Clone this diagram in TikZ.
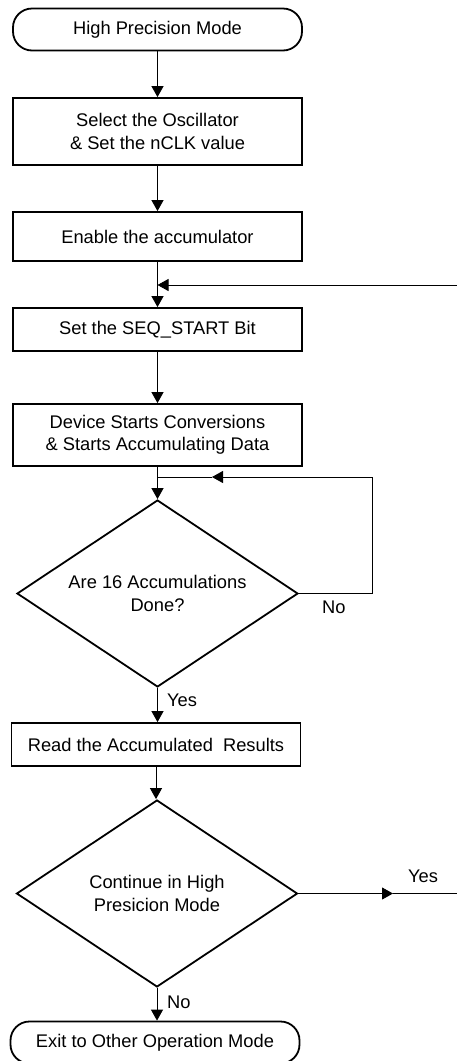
\documentclass[tikz,border=0pt]{standalone}
\usepackage{fontspec}
\setmainfont{Liberation Sans}
\usetikzlibrary{shapes.geometric,arrows.meta}
\begin{document}
\begin{tikzpicture}[x=1pt,y=-1pt,
  every node/.style={font=\fontsize{18.3}{22.5}\selectfont},
  procbox/.style={draw,line width=1.8pt,minimum width=289pt,inner sep=0pt,align=center},
  termbox/.style={draw,line width=1.8pt,minimum width=289pt,minimum height=42pt,rounded corners=19pt,inner sep=0pt},
  decide/.style={draw,diamond,line width=1.8pt,aspect=1.5,minimum width=281pt,minimum height=187pt,inner sep=0pt,align=center},
  conn/.style={line width=0.9pt},
  arr/.style={conn,-{Triangle[length=11pt,width=12pt]}},
  lbl/.style={inner sep=0pt}
]
\useasboundingbox (0,0) rectangle (457,1061);
\node[termbox] (start) at (157.5,29.5) {High Precision Mode};
\node[procbox,minimum height=67pt] (osc) at (157.5,131.5) {Select the Oscillator\\\& Set the nCLK value};
\node[procbox,minimum height=49pt] (acc) at (157.5,236.5) {Enable the accumulator};
\node[procbox,minimum height=43pt] (seq) at (157.5,329.5) {Set the SEQ\_START Bit};
\node[procbox,minimum height=62pt] (dev) at (157.5,435) {Device Starts Conversions\\\& Starts Accumulating Data};
\node[decide] (d1) at (157.5,593.5) {Are 16 Accumulations\\Done?};
\node[procbox,minimum height=43pt] (read) at (156,744.5) {Read the Accumulated\ \ Results};
\node[decide] (d2) at (157,893.5) {Continue in High\\Presicion Mode};
\node[termbox] (exit) at (155,1042.5) {Exit to Other Operation Mode};

\draw[arr] (start.south) -- (osc.north);
\draw[arr] (osc.south) -- (acc.north);
\draw[arr] (acc.south) -- (seq.north);
\draw[arr] (seq.south) -- (dev.north);
\draw[arr] (dev.south) -- (d1.north);

\coordinate (rin) at (457,285);
\draw[arr] (rin) -- (rin -| acc.south);

\coordinate (lp1) at (372,593.5);
\coordinate (lp2) at (372,477);
\coordinate (lptip) at (212,477);
\draw[arr] (d1.east) -- (lp1) -- (lp2) -- (lptip);
\draw[conn] (lptip) -- (lptip -| dev.south);

\draw[arr] (d1.south) -- (d1.south |- read.north);
\draw[arr] (read.south) -- (read.south |- d2.north);
\draw[arr] (d2.south) -- (d2.south |- exit.north);

\coordinate (ytip) at (393,893.5);
\coordinate (yout) at (457,893.5);
\draw[arr] (d2.east) -- (ytip);
\draw[conn] (ytip) -- (yout);

\node[lbl,anchor=west] (no1) at (322,607) {No};
\node[lbl,anchor=west] (yes1) at (167,700) {Yes};
\node[lbl,anchor=west] (yes2) at (408,876) {Yes};
\node[lbl,anchor=west] (no2) at (167,1002) {No};
\end{tikzpicture}
\end{document}
